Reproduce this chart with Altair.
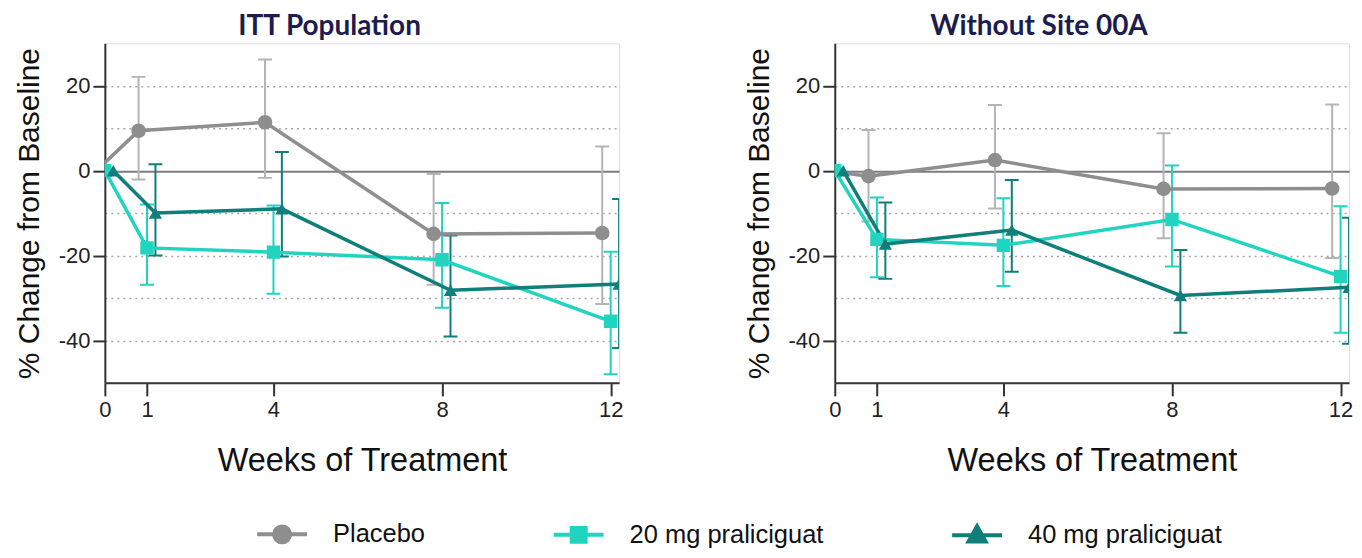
import altair as alt
import pandas as pd

weeks = [0, 1, 4, 8, 12]
series_names = ["Placebo", "20 mg praliciguat", "40 mg praliciguat"]
panel_names = ["ITT Population", "Without Site 00A"]

# ITT Population (mean, upper and lower error limits)
itt_placebo_mean = [0, 9.4, 11.4, -14.9, -14.7]
itt_placebo_upper = [0, 22.1, 26.2, -0.8, 5.7]
itt_placebo_lower = [0, -2.1, -1.7, -26.9, -31.4]
itt_20_mean = [0, -18.2, -19.2, -21.0, -35.5]
itt_20_upper = [0, -8.0, -8.2, -7.6, -19.1]
itt_20_lower = [0, -26.9, -29.0, -32.3, -48.0]
itt_40_mean = [0, -10.0, -9.0, -28.2, -26.7]
itt_40_upper = [0, 1.5, 4.4, -15.3, -6.7]
itt_40_lower = [0, -20.0, -20.2, -39.1, -41.8]

# Without Site 00A
wo_placebo_mean = [0, -1.3, 2.5, -4.3, -4.2]
wo_placebo_upper = [0, 9.6, 15.5, 8.8, 15.6]
wo_placebo_lower = [0, -12.0, -8.9, -15.9, -20.6]
wo_20_mean = [0, -16.2, -17.6, -11.5, -24.9]
wo_20_upper = [0, -6.3, -6.5, 1.2, -8.4]
wo_20_lower = [0, -25.1, -27.2, -22.6, -38.2]
wo_40_mean = [0, -17.3, -14.0, -29.4, -27.5]
wo_40_upper = [0, -7.5, -2.2, -18.7, -11.1]
wo_40_lower = [0, -25.5, -23.8, -38.2, -40.8]

line_colors = ["#8e8e8e", "#21d4c0", "#107e7a"]
err_colors = ["#b4b4b4", "#21d4c0", "#107e7a"]
point_shapes = ["circle", "square", "triangle-up"]
point_sizes = [215, 180, 175]

def build(panel, groups):
    rows = []
    for name, (m, u, l) in zip(series_names, groups):
        for w, mv, uv, lv in zip(weeks, m, u, l):
            rows.append({"panel": panel, "series": name, "week": w,
                         "mean": mv, "hi": uv, "lo": lv})
    return pd.DataFrame(rows)

df_itt = build(panel_names[0], [
    (itt_placebo_mean, itt_placebo_upper, itt_placebo_lower),
    (itt_20_mean, itt_20_upper, itt_20_lower),
    (itt_40_mean, itt_40_upper, itt_40_lower)])
df_wo = build(panel_names[1], [
    (wo_placebo_mean, wo_placebo_upper, wo_placebo_lower),
    (wo_20_mean, wo_20_upper, wo_20_lower),
    (wo_40_mean, wo_40_upper, wo_40_lower)])

AXIS_FONT = "Liberation Sans"
DODGE = 0.2
CAP = 0.165

# legend symbols: short line (wider than the symbol box) with the marker on it
P_PATH = "M-2,0H2M-0.64,0A0.64,0.64,0,1,1,0.64,0A0.64,0.64,0,1,1,-0.64,0Z"
S_PATH = "M-2,0H2M-0.56,-0.56H0.56V0.56H-0.56Z"
T_PATH = "M-2,0H2M0,-0.72L0.68,0.5H-0.68Z"
legend_paths = [P_PATH, S_PATH, T_PATH]

legend = alt.Legend(
    title=None, orient="none", legendX=163, legendY=477,
    direction="horizontal", symbolSize=625, symbolStrokeWidth=4,
    labelFont=AXIS_FONT, labelFontSize=25.5, labelColor="#111111",
    labelOffset=36.5, labelLimit=400, columnPadding=120, padding=0,
    symbolOpacity=1,
)


def panel(df, title, dx):
    base = alt.Chart(df).transform_calculate(
        xpos=f"datum.week + (datum.series === 'Placebo' ? {-DODGE} : "
             f"datum.series === '40 mg praliciguat' ? {DODGE} : 0)",
    ).transform_calculate(
        xl=f"datum.xpos - {CAP}", xr=f"datum.xpos + {CAP}"
    )
    xscale = alt.Scale(domain=[0, 12.2], nice=False, zero=False)
    yscale = alt.Scale(domain=[-50, 30], nice=False, zero=False)
    x = alt.X("xpos:Q", scale=xscale, axis=alt.Axis(
        values=weeks, title="Weeks of Treatment", grid=False,
        labelFont=AXIS_FONT, labelFontSize=22, labelColor="#222222",
        titleFont=AXIS_FONT, titleFontSize=32.5, titleFontWeight="normal",
        titleColor="#111111", tickSize=13, tickWidth=2, tickColor="#333333",
        domainColor="#333333", domainWidth=2, labelPadding=4, titlePadding=24,
        labelFlush=False))
    y = alt.Y("mean:Q", scale=yscale, axis=alt.Axis(
        values=[20, 10, 0, -10, -20, -30, -40],
        title="% Change from Baseline",
        labelExpr="datum.value % 20 === 0 ? '' + datum.value : ''",
        tickOpacity={"condition": {"test": "datum.value % 20 === 0", "value": 1}, "value": 0},
        grid=True,
        gridDash={"condition": {"test": "datum.value === 0", "value": []}, "value": [2, 4]},
        gridColor={"condition": {"test": "datum.value === 0", "value": "#7c7c7c"}, "value": "#a6a6a6"},
        gridWidth={"condition": {"test": "datum.value === 0", "value": 2}, "value": 1.5},
        labelFont=AXIS_FONT, labelFontSize=22, labelColor="#222222",
        titleFont=AXIS_FONT, titleFontSize=30, titleFontWeight="normal",
        titleColor="#111111", tickSize=12, tickWidth=2, tickColor="#333333",
        domainColor="#333333", domainWidth=2, labelPadding=3, titlePadding=14))

    err_color = alt.Color("series:N", scale=alt.Scale(domain=series_names, range=err_colors), legend=None)
    line_scale = alt.Scale(domain=series_names, range=line_colors)

    # empty layer that only carries the legend (line + marker symbols)
    legend_layer = base.transform_filter("false").mark_point(
        filled=True, opacity=1, strokeWidth=4).encode(
        x=x, y=y,
        shape=alt.Shape("series:N", scale=alt.Scale(domain=series_names, range=legend_paths), legend=legend),
        fill=alt.Fill("series:N", scale=line_scale, legend=legend),
        stroke=alt.Stroke("series:N", scale=line_scale, legend=legend),
    )

    eb = base.transform_filter("datum.week > 0")
    err_v = eb.mark_rule(strokeWidth=2, clip=True).encode(x=x, y="lo:Q", y2="hi:Q", color=err_color)
    cap_hi = eb.mark_rule(strokeWidth=2, clip=True).encode(
        x=alt.X("xl:Q", scale=xscale), x2="xr:Q", y="hi:Q", color=err_color)
    cap_lo = eb.mark_rule(strokeWidth=2, clip=True).encode(
        x=alt.X("xl:Q", scale=xscale), x2="xr:Q", y="lo:Q", color=err_color)
    lines = base.mark_line(strokeWidth=3.5, clip=True).encode(
        x=x, y=y, stroke=alt.Stroke("series:N", scale=line_scale, legend=legend),
        detail="series:N", order="week:Q")
    layers = [legend_layer, err_v, cap_hi, cap_lo, lines]
    for name, shp, sz in zip(series_names, point_shapes, point_sizes):
        layers.append(
            base.transform_filter(alt.datum.series == name).mark_point(
                filled=True, opacity=1, clip=True, shape=shp, size=sz, strokeWidth=0
            ).encode(x=x, y=y, fill=alt.Fill("series:N", scale=line_scale, legend=legend))
        )
    return alt.layer(*layers).properties(
        width=515, height=340,
        title=alt.TitleParams(title, font="Lato", fontSize=28, fontWeight="bold",
                              color="#1c1c4e", anchor="middle", frame="group",
                              dx=dx, dy=-1, offset=1))


left = panel(df_itt, panel_names[0], -32.5)
right = panel(df_wo, panel_names[1], -53)

chart = alt.hconcat(left, right, spacing=216, bounds="flush").properties(
    padding={"left": 5, "right": 0, "top": 4, "bottom": 0}
).configure_view(stroke=None).configure(background="white")

chart.save("out.html", embed_options={"renderer": "svg", "actions": False})
